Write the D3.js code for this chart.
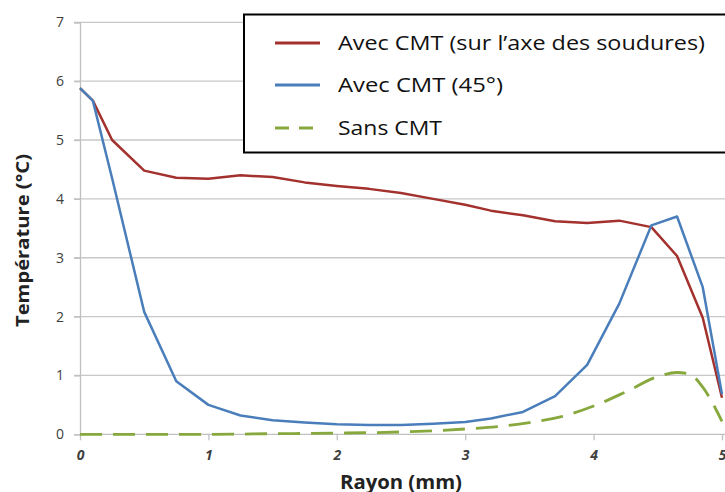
<!DOCTYPE html>
<html>
<head>
<meta charset="utf-8">
<script src="https://cdn.jsdelivr.net/npm/d3@7"></script>
<style>
  html, body { margin: 0; padding: 0; background: #fff; }
  svg { display: block; }
</style>
</head>
<body>
<svg id="chart" width="725" height="492"></svg>
<script>
// ---- data ----
const redX   = [0, 0.1, 0.25, 0.5, 0.75, 1.0, 1.25, 1.5, 1.75, 2.0, 2.25, 2.5, 2.75, 3.0, 3.2, 3.45, 3.7, 3.95, 4.2, 4.45, 4.65, 4.85, 5.0];
const redY   = [5.88, 5.67, 5.0, 4.48, 4.36, 4.34, 4.4, 4.37, 4.28, 4.22, 4.17, 4.1, 4.0, 3.9, 3.8, 3.72, 3.62, 3.59, 3.63, 3.52, 3.03, 1.98, 0.62];
const blueX  = [0, 0.1, 0.25, 0.5, 0.75, 1.0, 1.25, 1.5, 1.75, 2.0, 2.25, 2.5, 2.75, 3.0, 3.2, 3.45, 3.7, 3.95, 4.2, 4.45, 4.65, 4.85, 5.0];
const blueY  = [5.88, 5.67, 4.35, 2.08, 0.9, 0.5, 0.32, 0.24, 0.2, 0.17, 0.16, 0.16, 0.18, 0.21, 0.27, 0.38, 0.65, 1.18, 2.22, 3.55, 3.7, 2.5, 0.68];
const greenX = [0, 0.5, 1.0, 1.5, 2.0, 2.5, 2.75, 3.0, 3.25, 3.5, 3.75, 4.0, 4.25, 4.5, 4.65, 4.75, 4.85, 5.0];
const greenY = [0, 0, 0, 0.01, 0.02, 0.04, 0.06, 0.09, 0.13, 0.2, 0.3, 0.48, 0.72, 0.98, 1.05, 1.02, 0.8, 0.22];
const seriesNames = ["Avec CMT (sur l\u2019axe des soudures)", "Avec CMT (45\u00b0)", "Sans CMT"];
const xTicks = [0, 1, 2, 3, 4, 5];
const yTicks = [0, 1, 2, 3, 4, 5, 6, 7];
const xTitle = "Rayon (mm)";
const yTitle = "Temp\u00e9rature (\u00b0C)";

// ---- layout ----
const svg = d3.select("#chart");
const x = d3.scaleLinear().domain([0, 5]).range([80, 722]);
const y = d3.scaleLinear().domain([0, 7]).range([434.3, 22.3]);
const font = "'Open Sans', Lato, sans-serif";

// horizontal gridlines
svg.append("g").selectAll("line").data(yTicks.filter(d => d > 0)).join("line")
  .attr("x1", x(0) - 6).attr("x2", 725)
  .attr("y1", d => y(d)).attr("y2", d => y(d))
  .attr("stroke", "#c8c8c8").attr("stroke-width", 1.3);

// y axis
const yAxis = d3.axisLeft(y).tickValues(yTicks).tickSize(6).tickPadding(10).tickFormat(d3.format("d"));
const gy = svg.append("g").attr("transform", `translate(${x(0)},0)`).call(yAxis);
gy.select(".domain").attr("stroke", "#c0c0c0").attr("stroke-width", 1.3);
gy.selectAll(".tick line").attr("stroke", "#c0c0c0").attr("stroke-width", 1.3);
gy.selectAll(".tick text").attr("font-family", font).attr("font-size", 14).attr("fill", "#404040");

// x axis
const xAxis = d3.axisBottom(x).tickValues(xTicks).tickSize(6).tickSizeOuter(0).tickPadding(10).tickFormat(d3.format("d"));
const gx = svg.append("g").attr("transform", `translate(0,${y(0)})`).call(xAxis);
gx.select(".domain").attr("stroke", "#c0c0c0").attr("stroke-width", 1.3).attr("d", `M${x(0)},0H725`);
gx.selectAll(".tick line").attr("stroke", "#c0c0c0").attr("stroke-width", 1.3);
gx.selectAll(".tick text").attr("font-family", font).attr("font-size", 14)
  .attr("font-style", "italic").attr("font-weight", "bold").attr("fill", "#404040");

// axis titles
svg.append("text").attr("x", (x(0) + x(5)) / 2 - 61).attr("y", 489)
  .attr("font-family", font).attr("font-weight", "bold")
  .attr("font-size", 19).attr("fill", "#222")
  .attr("textLength", 122).attr("lengthAdjust", "spacingAndGlyphs").text(xTitle);
svg.append("text").attr("transform", "translate(29,327) rotate(-90)")
  .attr("font-family", font).attr("font-weight", "bold")
  .attr("font-size", 18).attr("fill", "#222")
  .attr("textLength", 173).attr("lengthAdjust", "spacingAndGlyphs").text(yTitle);

// lines
const lineLin = d3.line().x(d => x(d[0])).y(d => y(d[1]));
const lineSmooth = d3.line().x(d => x(d[0])).y(d => y(d[1])).curve(d3.curveMonotoneX);
const zip = (a, b) => a.map((v, i) => [v, b[i]]);
const colors = ["#A3312E", "#4A7EBB", "#86A83C"];

svg.append("path").datum(zip(greenX, greenY)).attr("d", lineSmooth)
  .attr("fill", "none").attr("stroke", colors[2]).attr("stroke-width", 2.8).attr("stroke-dasharray", "22,11");
svg.append("path").datum(zip(redX, redY)).attr("d", lineLin)
  .attr("fill", "none").attr("stroke", colors[0]).attr("stroke-width", 2.5).attr("stroke-linejoin", "round");
svg.append("path").datum(zip(blueX, blueY)).attr("d", lineLin)
  .attr("fill", "none").attr("stroke", colors[1]).attr("stroke-width", 2.5).attr("stroke-linejoin", "round");

// legend
const lg = svg.append("g");
lg.append("rect").attr("x", 244).attr("y", 14.5).attr("width", 500).attr("height", 138)
  .attr("fill", "#fff").attr("stroke", "#000").attr("stroke-width", 2);
const rowsY = [43, 85, 128];
const textW = [367, 165, 104];
seriesNames.forEach((name, i) => {
  const line = lg.append("line").attr("x1", 275).attr("x2", 320).attr("y1", rowsY[i]).attr("y2", rowsY[i])
    .attr("stroke", colors[i]).attr("stroke-width", 2.8);
  if (i === 2) line.attr("stroke-dasharray", "14,10");
  lg.append("text").attr("x", 338).attr("y", rowsY[i] + 7).attr("font-family", font)
    .attr("font-size", 20).attr("fill", "#111")
    .attr("textLength", textW[i]).attr("lengthAdjust", "spacingAndGlyphs").text(name);
});
</script>
</body>
</html>
